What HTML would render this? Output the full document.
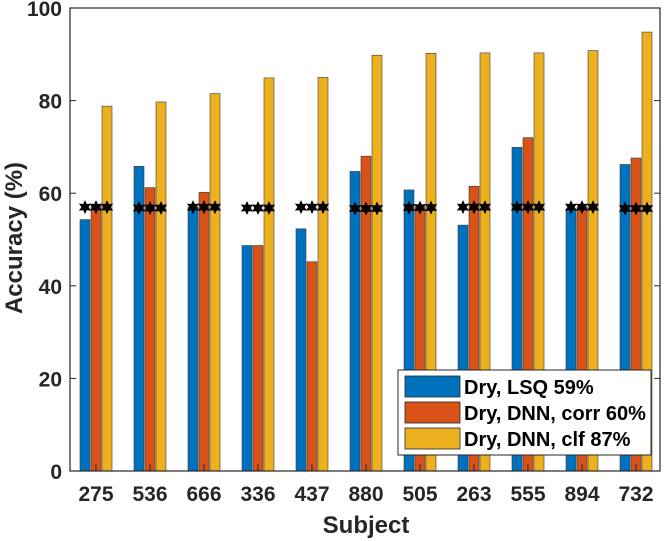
<!DOCTYPE html>
<html><head><meta charset="utf-8"><style>
body{margin:0;background:#fff}
svg{display:block;font-family:"Liberation Sans",Arial,sans-serif;font-weight:bold}
</style></head><body>
<svg id="chart" width="667" height="541" viewBox="0 0 667 541">
<rect x="0" y="0" width="667" height="541" fill="#fff"/>
<g id="bars"></g>
<g id="stars"></g>
<g id="axes"></g>
<text x="366" y="533" font-size="24" text-anchor="middle" fill="#262626">Subject</text>
<text transform="translate(22,238) rotate(-90)" font-size="24" text-anchor="middle" fill="#262626">Accuracy (%)</text>
<g>
<rect x="398" y="370" width="253" height="85" fill="#fff" stroke="#262626" stroke-width="1"/>
<g><rect x="405" y="376" width="55" height="21" fill="#0072BD" stroke="#262626" stroke-width="0.8"/><text x="464" y="394" font-size="20" fill="#000">Dry, LSQ 59%</text></g>
<g><rect x="405" y="402" width="55" height="21" fill="#D95319" stroke="#262626" stroke-width="0.8"/><text x="464" y="420" font-size="20" fill="#000">Dry, DNN, corr 60%</text></g>
<g><rect x="405" y="428" width="55" height="21" fill="#EDB120" stroke="#262626" stroke-width="0.8"/><text x="464" y="446" font-size="20" fill="#000">Dry, DNN, clf 87%</text></g>
</g>
</svg>
<script>
const subjects=["275","536","666","336","437","880","505","263","555","894","732"];
const lsq=[54.3,65.8,57,48.7,52.3,64.7,60.7,53.1,69.9,56.5,66.2];
const corr=[57.5,61.2,60.2,48.7,45.2,68,57,61.5,72,57,67.6];
const clf=[78.8,79.7,81.5,84.9,85,89.8,90.2,90.3,90.3,90.8,94.8];
const chance=[57,56.8,57,56.8,57,56.7,56.9,57,57,57,56.7];
const yTicks=[0,20,40,60,80,100];
const NS="http://www.w3.org/2000/svg";
const L=70,R=660,T=8,B=471;
function y(v){return B-(v/100)*(B-T);}
function xc(i){return 96+i*((636-96)/(subjects.length-1));}
function mk(tag,a,p){const e=document.createElementNS(NS,tag);for(const k in a)e.setAttribute(k,a[k]);p.appendChild(e);return e;}
const bars=document.getElementById('bars'),stars=document.getElementById('stars'),axes=document.getElementById('axes');
const series=[[lsq,"#0072BD",-11,"lsq"],[corr,"#D95319",0,"corr"],[clf,"#EDB120",11,"clf"]];
subjects.forEach((s,i)=>{
  series.forEach(([arr,col,off,nm])=>{
    const r=mk('rect',{x:xc(i)+off-5,y:y(arr[i]),width:10,height:B-y(arr[i]),fill:col,stroke:"#3a3a3a","stroke-width":0.6},bars);
    
    
  });
  const tk=mk('line',{x1:xc(i),x2:xc(i),y1:B,y2:B-7,stroke:"#262626","stroke-width":1},bars);
  
  
  [-11,0,11].forEach(off=>{
    const cx=xc(i)+off,cy=y(chance[i]),ro=7,ri=3.6;let pts=[];
    for(let k=0;k<12;k++){const a=Math.PI/6*k-Math.PI/2;const rr=k%2?ri:ro;pts.push((cx+rr*Math.cos(a)).toFixed(1)+","+(cy+rr*Math.sin(a)).toFixed(1));}
    const st=mk('polygon',{points:pts.join(' '),fill:"#000"},stars);
    
    
  });
  const t=mk('text',{x:xc(i),y:501,"font-size":21,"text-anchor":"middle",fill:"#262626"},axes);
  t.textContent=s;
  
  
});
yTicks.forEach(v=>{
  const ln=mk('line',{x1:L,x2:L+6,y1:y(v),y2:y(v),stroke:"#262626","stroke-width":1},axes);
  
  
  const ln2=mk('line',{x1:R,x2:R-6,y1:y(v),y2:y(v),stroke:"#262626","stroke-width":1},axes);
  
  
  const t=mk('text',{x:L-8,y:y(v)+8,"font-size":21,"text-anchor":"end",fill:"#262626"},axes);
  t.textContent=v;
  
  
});
const box=mk('rect',{x:L,y:T,width:R-L,height:B-T,fill:"none",stroke:"#262626","stroke-width":1.2},axes);


</script>
</body></html>
